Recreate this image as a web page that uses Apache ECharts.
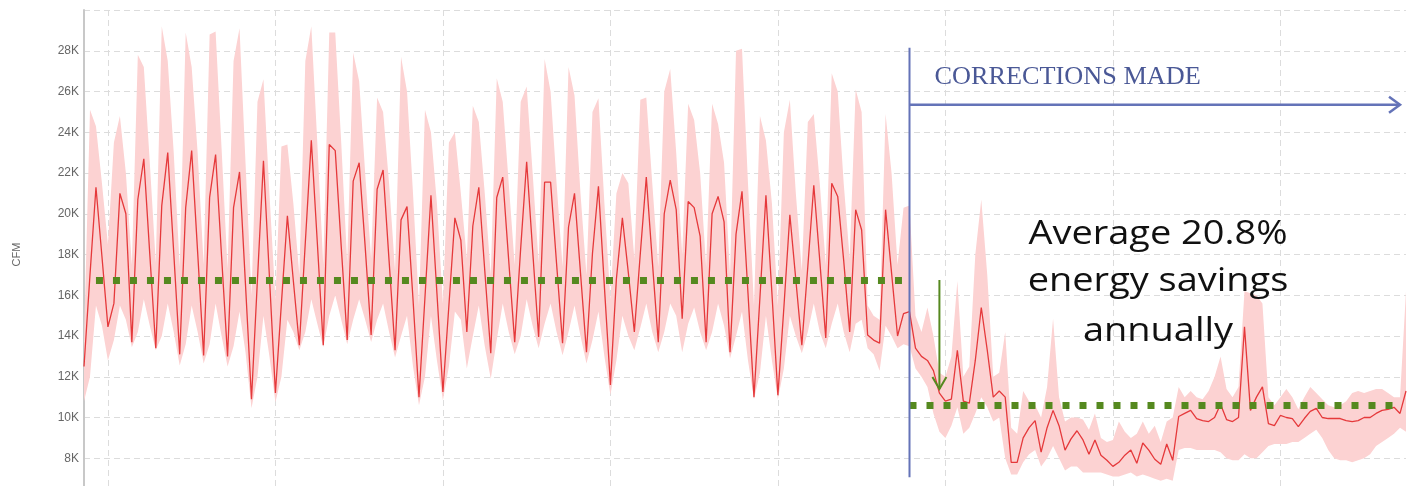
<!DOCTYPE html>
<html>
<head>
<meta charset="utf-8">
<title>CFM</title>
<script src="https://cdn.jsdelivr.net/npm/echarts@6/dist/echarts.min.js"></script>
<style>
html, body { margin: 0; padding: 0; background: #fff; overflow: hidden; }
#main { width: 1419px; height: 499px; }
</style>
</head>
<body>
<div id="main"></div>
<script>
// airflow in thousands of CFM, one sample every 6 hours
var cfmAvg = [
  12.5,17.0,21.3,17.9, 14.45,15.6,21.0,20.0, 13.7,20.7,22.7,18.0, 13.4,20.4,23.0,18.1,
  13.1,20.3,23.1,18.1, 13.05,20.8,22.9,17.9, 13.0,20.3,22.05,16.5, 10.9,16.8,22.6,16.9,
  11.2,15.6,19.9,16.7, 13.55,18.6,23.6,18.6, 13.55,23.4,23.1,18.4, 13.8,21.6,22.5,18.4,
  14.05,21.2,22.15,17.7, 13.3,19.7,20.35,15.8, 11.0,15.9,20.9,16.1, 11.25,15.5,19.8,18.7,
  14.2,19.4,21.3,17.2, 13.15,20.8,21.8,17.7, 13.7,18.3,22.55,18.2, 13.95,21.55,21.55,17.55,
  13.65,19.35,21.0,17.1, 13.2,18.05,21.35,16.4, 11.6,16.8,19.8,17.1, 14.2,18.05,21.8,17.7,
  13.7,20.0,21.65,20.2, 14.85,20.6,20.3,18.9, 13.7,20.0,20.85,19.6, 13.2,19.0,21.1,16.1,
  11.0,15.9,20.9,16.1, 11.1,15.4,19.95,16.75, 13.55,17.4,21.4,17.7, 13.9,21.5,20.85,17.7,
  14.2,20.2,19.2,14.05, 13.8,13.65,20.2,17.1,
  14.0,15.1,15.2,13.4,13.0,12.8,12.3,11.2,10.8,10.9,
  13.3,10.8,10.7,12.8,15.4,13.3,11.0,11.3,11.0,7.8,
  7.8,9.0,9.5,9.85,8.3,9.5,10.35,9.6,8.4,8.95,
  9.35,8.9,8.2,8.9,8.15,7.9,7.6,7.8,8.15,8.4,
  7.75,8.75,8.4,7.95,7.7,8.7,7.9,10.05,10.2,10.35,
  9.95,9.85,9.8,10.0,10.65,9.9,9.8,10.0,14.45,10.35,
  11.0,11.5,9.7,9.6,10.1,10.0,9.95,9.55,9.95,10.3,
  10.45,10.0,9.95,9.95,9.95,9.85,9.8,9.85,10.0,10.0,
  10.2,10.35,10.4,10.5,10.2,11.3
];
var cfmMax = [
  13.8,25.1,24.3,21.5, 18.5,23.5,24.8,22.0, 17.5,27.8,27.2,22.5, 17.6,29.2,27.5,23.0,
  17.4,28.9,27.2,23.0, 17.5,28.8,28.95,23.2, 17.3,27.5,29.1,22.5, 16.0,25.5,26.6,21.0,
  15.8,23.3,23.4,20.5, 17.0,27.5,29.2,23.5, 17.5,28.9,28.9,23.5, 17.6,27.9,26.5,22.0,
  17.8,25.7,25.0,21.5, 17.2,27.7,26.0,21.0, 15.5,25.1,24.0,20.5, 15.6,23.5,24.0,21.0,
  17.8,25.3,24.5,21.0, 17.0,26.65,25.5,21.5, 17.5,25.5,26.24,22.0, 17.6,27.6,26.0,21.5,
  17.4,27.2,25.8,21.0, 17.0,25.0,25.67,20.5, 15.8,21.0,22.0,21.5, 17.8,25.6,25.7,21.5,
  17.4,26.0,27.1,23.0, 18.0,25.4,24.6,22.0, 17.4,25.4,24.4,22.5, 17.0,28.0,28.1,21.5,
  15.5,24.8,23.6,20.5, 15.5,24.0,25.6,21.0, 17.2,24.5,24.9,21.5, 17.5,26.9,26.0,21.5,
  17.8,26.1,25.0,15.5, 15.0,14.8,24.9,22.0,
  17.5,20.3,20.4,15.0,14.2,15.4,14.0,12.2,12.0,13.0,
  16.7,12.0,12.5,18.0,20.7,17.0,12.0,12.2,14.2,9.5,
  9.2,11.3,10.8,10.6,10.0,11.5,14.85,11.0,9.8,10.0,
  10.0,9.9,9.4,10.2,9.0,8.8,8.9,9.8,9.3,9.0,
  9.2,9.8,9.2,9.6,8.8,9.8,10.0,11.5,11.0,11.3,
  11.0,10.9,11.3,12.0,13.0,11.4,11.0,11.5,16.2,16.1,
  16.0,15.6,11.0,10.6,11.0,11.4,11.0,10.4,11.0,11.5,
  11.2,10.9,10.6,10.5,10.6,10.8,11.2,11.3,11.2,11.3,
  11.4,11.4,11.2,11.0,11.0,16.2
];
var cfmMin = [
  10.8,12.0,15.5,14.5, 12.8,13.8,15.5,14.8, 13.45,14.2,15.8,14.5, 13.3,14.0,15.6,14.2,
  12.55,13.6,15.5,14.2, 12.65,13.6,15.6,14.0, 12.5,13.5,15.2,13.2, 10.45,12.0,15.0,13.0,
  10.75,12.0,14.8,14.2, 13.3,14.2,15.8,14.6, 13.45,15.0,16.0,14.8, 13.6,14.8,15.8,14.8,
  13.7,14.8,15.6,14.2, 12.95,14.0,15.0,12.5, 10.6,12.0,15.0,12.8, 10.85,12.5,15.2,14.8,
  12.4,14.0,15.5,13.5, 11.9,13.8,15.6,14.2, 13.1,14.0,15.8,14.5, 13.4,14.6,15.6,14.2,
  13.05,14.2,15.5,14.0, 12.65,13.8,15.2,13.0, 11.1,12.8,15.0,14.0, 13.3,14.4,15.6,14.2,
  13.2,14.2,15.6,15.0, 13.2,14.6,15.4,14.2, 13.3,14.2,15.6,14.5, 12.9,14.0,15.2,12.8,
  10.9,12.2,15.0,12.8, 10.9,12.4,15.0,14.0, 13.15,14.2,15.6,14.2, 13.4,14.6,15.6,14.2,
  13.2,14.6,14.8,13.4, 13.1,12.3,14.5,14.0,
  13.4,13.6,13.5,12.4,12.0,11.5,10.2,9.3,9.0,9.6,
  10.5,9.2,9.5,10.2,11.0,10.5,9.8,10.0,8.0,7.2,
  7.2,7.8,8.2,8.4,7.6,8.0,8.6,8.0,7.4,7.6,
  7.6,7.3,7.3,7.3,7.3,7.2,7.1,7.1,7.2,7.3,
  7.1,7.2,7.1,7.0,6.9,7.0,6.9,8.4,8.5,8.5,
  8.4,8.4,8.4,8.4,8.3,8.0,7.9,7.9,8.2,8.0,
  8.0,8.3,8.6,8.7,8.7,8.7,8.8,8.8,9.0,9.2,
  9.4,9.0,8.4,8.0,7.9,7.9,7.8,7.9,8.0,8.2,
  8.6,8.8,9.0,9.2,9.5,9.3
];
var yTicks = [8, 10, 12, 14, 16, 18, 20, 22, 24, 26, 28];
var avgBefore = 16.75;
var avgAfter = 10.6;
var correctionIdx = 138;

var categories = cfmAvg.map(function (v, i) { return String(i); });
var spread = cfmMax.map(function (v, i) { return +(v - cfmMin[i]).toFixed(2); });

var green = '#55891f';
var blue = '#6473b8';

var chart = echarts.init(document.getElementById('main'));
var option = {
  animation: false,
  grid: { left: 84, right: 13, top: 10, bottom: 0 },
  xAxis: {
    type: 'category',
    data: categories,
    boundaryGap: false,
    axisLine: { show: false },
    axisTick: { show: false },
    axisLabel: { show: false },
    splitLine: {
      show: true,
      interval: function (idx) { return idx % 28 === 4; },
      lineStyle: { color: '#dcdcdc', type: [6, 4], width: 1 }
    }
  },
  yAxis: {
    type: 'value',
    min: 6,
    max: 30,
    interval: 2,
    name: 'CFM',
    nameLocation: 'middle',
    nameRotate: 90,
    nameGap: 62,
    nameTextStyle: { fontSize: 11, color: '#666', fontFamily: 'Liberation Sans' },
    axisLine: { show: true, lineStyle: { color: '#c8c8c8', width: 2 } },
    axisTick: { show: false },
    axisLabel: {
      margin: 5,
      fontSize: 12,
      color: '#666',
      fontFamily: 'Liberation Sans',
      formatter: function (v) { return yTicks.indexOf(v) >= 0 ? v + 'K' : ''; }
    },
    splitLine: { lineStyle: { color: '#dcdcdc', type: [6, 4], width: 1 } }
  },
  series: [
    {
      name: 'min', type: 'line', data: cfmMin, stack: 'band',
      symbol: 'none', silent: true, lineStyle: { opacity: 0 }
    },
    {
      name: 'range', type: 'line', data: spread, stack: 'band',
      symbol: 'none', silent: true, lineStyle: { opacity: 0 },
      areaStyle: { color: '#fcd2d2', opacity: 1 }
    },
    {
      name: 'CFM', type: 'line', data: cfmAvg, symbol: 'none',
      lineStyle: { color: '#e5393b', width: 1.3 },
      markLine: {
        silent: true,
        symbol: 'none',
        label: { show: false },
        lineStyle: { color: green, width: 7, type: [7, 10], cap: 'butt' },
        data: [
          [{ coord: [2, avgBefore] }, { coord: [correctionIdx - 1, avgBefore] }],
          [{ coord: [correctionIdx, avgAfter] }, { coord: [220, avgAfter] }]
        ]
      }
    }
  ]
};
chart.setOption(option);

// annotations drawn on top of the chart
function toPx(i, v) { return chart.convertToPixel({ gridIndex: 0 }, [i, v]); }
var vTop = toPx(correctionIdx, 28.15);
var vBot = toPx(correctionIdx, 7.07);
var hStart = toPx(correctionIdx, 25.35);
var hEnd = toPx(220, 25.35);
var gTop = toPx(143, avgBefore);
var gTip = toPx(143, 11.4);

chart.setOption({
  graphic: [
    { type: 'polyline', z: 100, shape: { points: [vTop, vBot] }, style: { stroke: blue, lineWidth: 2, fill: null } },
    { type: 'polyline', z: 100, shape: { points: [hStart, hEnd] }, style: { stroke: blue, lineWidth: 2.5, fill: null } },
    { type: 'polyline', z: 100, shape: { points: [[hEnd[0] - 11, hEnd[1] - 8], hEnd, [hEnd[0] - 11, hEnd[1] + 8]] }, style: { stroke: blue, lineWidth: 2.5, fill: null } },
    { type: 'polyline', z: 100, shape: { points: [gTop, gTip] }, style: { stroke: green, lineWidth: 2, fill: null } },
    { type: 'polyline', z: 100, shape: { points: [[gTip[0] - 7, gTip[1] - 12], gTip, [gTip[0] + 7, gTip[1] - 12]] }, style: { stroke: green, lineWidth: 2, fill: null } },
    {
      type: 'text', z: 100, x: hStart[0] + 25, y: 77, scaleX: 1.05,
      style: { text: 'CORRECTIONS MADE', font: '25px "Liberation Serif"', fill: '#4a5896', textVerticalAlign: 'middle' }
    },
    {
      type: 'text', z: 100, x: 1158, y: 235, scaleX: 1.15,
      style: { text: 'Average 20.8%', font: '33px "Open Sans"', fill: '#111', textAlign: 'center', textVerticalAlign: 'middle' }
    },
    {
      type: 'text', z: 100, x: 1158, y: 282, scaleX: 1.15,
      style: { text: 'energy savings', font: '33px "Open Sans"', fill: '#111', textAlign: 'center', textVerticalAlign: 'middle' }
    },
    {
      type: 'text', z: 100, x: 1158, y: 332, scaleX: 1.15,
      style: { text: 'annually', font: '33px "Open Sans"', fill: '#111', textAlign: 'center', textVerticalAlign: 'middle' }
    }
  ]
});
</script>
</body>
</html>
